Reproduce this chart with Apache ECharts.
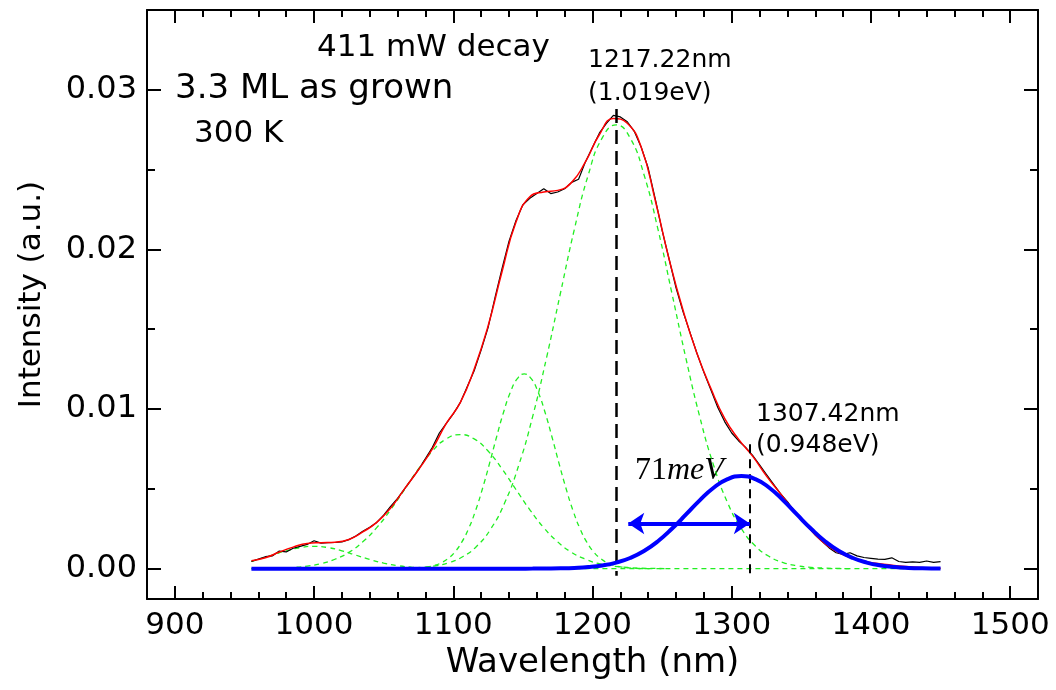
<!DOCTYPE html>
<html>
<head>
<meta charset="utf-8">
<script src="https://cdn.jsdelivr.net/npm/echarts@6/dist/echarts.min.js"></script>
<style>html,body{margin:0;padding:0;background:#fff}#c{width:1056px;height:690px}</style>
</head>
<body>
<div id="c"></div>
<script>
// ---- axis ticks ----
const xMajorTicks = [900, 1000, 1100, 1200, 1300, 1400, 1500];
const yMajorTicks = [0, 0.01, 0.02, 0.03];
const yMinorTicks = [0.005, 0.015, 0.025];

// ---- measured spectrum (black) ----
const dataWl = [955,960,965,970,975,980,985,990,995,1000,1005,1010,1015,1020,1025,1030,1035,1040,1045,1050,1055,1060,1065,1070,1075,1080,1085,1090,1095,1100,1105,1110,1115,1120,1125,1130,1135,1140,1145,1150,1155,1160,1165,1170,1175,1180,1185,1190,1195,1200,1205,1210,1215,1220,1225,1230,1235,1240,1245,1250,1255,1260,1265,1270,1275,1280,1285,1290,1295,1300,1305,1310,1315,1320,1325,1330,1335,1340,1345,1350,1355,1360,1365,1370,1375,1380,1385,1390,1395,1400,1405,1410,1415,1420,1425,1430,1435,1440,1445,1450];
const dataVal = [0.00045,0.0006,0.00075,0.0008,0.0011,0.00105,0.00128,0.0014,0.00152,0.00175,
0.0016,0.00163,0.00164,0.00168,0.00182,0.00205,0.00235,0.0026,0.0029,0.00335,
0.0039,0.0044,0.005,0.0056,0.0062,0.0069,0.0076,0.0085,0.0091,0.0097,
0.0104,0.0114,0.0124,0.0137,0.0151,0.017,0.0188,0.0205,0.0218,0.0228,
0.0232,0.0235,0.0238,0.0235,0.0236,0.0238,0.0242,0.0244,0.0255,0.0264,
0.0273,0.0279,0.0284,0.0283,0.028,0.0274,0.0264,0.0251,0.0232,0.0212,
0.0194,0.0176,0.0161,0.0148,0.0135,0.0123,0.0112,0.0101,0.0092,0.0085,
0.008,0.0076,0.0071,0.0065,0.0059,0.0053,0.0047,0.0042,0.0036,0.0031,
0.0026,0.0021,0.0017,0.0013,0.001,0.0009,0.001,0.0008,0.0007,0.00065,
0.0006,0.00058,0.00068,0.00045,0.0004,0.00042,0.0004,0.00048,0.0004,0.00044];

// ---- cumulative fit (red) ----
const fitWl = [955,965,975,985,995,1005,1015,1025,1035,1045,1055,1065,1075,1085,1095,1105,1115,1125,1135,1145,1155,1165,1175,1185,1195,1205,1215,1225,1235,1245,1255,1265,1275,1285,1295,1305,1315,1325,1335,1345,1355,1365,1375,1385,1395,1405,1415,1425,1435,1445,1450];
const fitVal = [0.0005,0.00068,0.00104,0.00135,0.00158,0.00163,0.00166,0.00183,0.0023,0.0029,
0.0038,0.005,0.0062,0.0075,0.0091,0.0104,0.0125,0.0152,0.0186,0.0217,
0.0233,0.0236,0.0237,0.0242,0.0255,0.0272,0.0282,0.0279,0.0264,0.0231,
0.0194,0.0162,0.0135,0.0113,0.0094,0.0081,0.00705,0.0058,0.0047,0.0036,
0.0026,0.0017,0.0011,0.0007,0.00045,0.00032,0.00022,0.00014,0.00008,0.00004,0.00003];

// ---- fitted peaks (green dashed) ----
const peak1Wl = [955,960,970,980,990,1000,1010,1020,1030,1040,1050,1060,1070,1080,1090,1100,1110];
const peak1Val = [0.00045,0.00058,0.00085,0.00112,0.00132,0.0014,0.00132,0.00112,0.00085,0.00058,0.00035,0.00019,0.00009,0.00004,0.000016,0.000005,0];

const peak2Wl = [955,965,975,985,995,1005,1015,1025,1035,1045,1055,1065,1075,1085,1095,1105,1115,1125,1135,1145,1155,1165,1175,1185,1195,1205,1215,1225,1235,1245,1255];
const peak2Val = [0.000005,0.000013,0.000032,0.000074,0.000157,0.00031,0.00059,0.00102,0.00168,0.00257,0.00369,0.00496,0.00625,0.00737,0.00813,0.0084,0.00813,0.00737,0.00625,0.00496,0.00369,0.00257,0.00168,0.00102,0.00059,0.00031,0.000157,0.000074,0.000032,0.000013,0.000005];

const peak3Wl = [1061,1071,1081,1086,1091,1096,1101,1106,1111,1116,1121,1126,1131,1136,1141,1146,1151,1156,1161,1166,1171,1176,1181,1186,1191,1196,1201,1206,1211,1216,1221,1231,1241];
const peak3Val = [0.000004,0.000022,0.0001,0.00019,0.00035,0.00062,0.00103,0.00165,0.00251,0.00364,0.00502,0.00658,0.00822,0.00977,0.01105,0.0119,0.0122,0.0119,0.01105,0.00977,0.00822,0.00658,0.00502,0.00364,0.00251,0.00165,0.00103,0.00062,0.00035,0.00019,0.0001,0.000022,0.000004];

const peak4Wl = [1047,1057,1067,1077,1087,1097,1107,1117,1127,1137,1147,1157,1167,1177,1187,1197,1207,1217,1227,1237,1247,1257,1267,1277,1287,1297,1307,1317,1327,1337,1347,1357,1367,1377,1387];
const peak4Val = [0.000005,0.000014,0.000035,0.00008,0.00018,0.00038,0.00076,0.00142,0.0025,0.00414,0.00647,0.00953,0.01322,0.01727,0.02127,0.02468,0.02699,0.0278,0.02699,0.02468,0.02127,0.01727,0.01322,0.00953,0.00647,0.00414,0.0025,0.00142,0.00076,0.00038,0.00018,0.00008,0.000035,0.000014,0.000005];

const baseWl = [955, 1450];
const baseVal = [0, 0];

// ---- highlighted peak (blue) ----
const peak5Wl = [955,1000,1050,1100,1127,1137,1147,1157,1167,1177,1187,1197,1207,1217,1227,1237,1247,1257,1267,1277,1287,1297,1307,1317,1327,1337,1347,1357,1367,1377,1387,1397,1407,1417,1427,1437,1450];
const peak5Val = [0,0,0,0,0,0,0.000001,0.000003,0.000008,0.000019,0.000045,0.000098,0.0002,0.00038,0.00067,0.00111,0.00172,0.0025,0.00338,0.00428,0.00507,0.00561,0.0058,0.00561,0.00507,0.00428,0.00338,0.0025,0.00172,0.00111,0.00067,0.00038,0.0002,0.000098,0.000045,0.000019,0.000005];

// ---- annotations ----
const mainPeakWl = 1217.22;
const mainPeakTop = 0.0288;
const sidePeakWl = 1313;
const sidePeakTop = 0.0078;
const lineBottom = -0.00045;
const fwhmLevel = 0.00283;
const fwhmFrom = 1225.7;
const fwhmTo = 1313;

const zip = (xs, ys) => xs.map((x, i) => [x, ys[i]]);

const FONT = '"DejaVu Sans", sans-serif';
const X_MIN = 880, X_MAX = 1520, Y_MIN = -0.0019, Y_MAX = 0.035;

function xAx(pos, major, extra) {
  return Object.assign({
    type: 'value', min: X_MIN, max: X_MAX, position: pos,
    splitLine: { show: false },
    axisLine: { show: major, onZero: false, lineStyle: { color: '#000', width: 2 } },
    axisTick: major ? { show: true, inside: true, length: 13, lineStyle: { color: '#000', width: 2 }, customValues: xMajorTicks }
                    : { show: true, inside: true, length: 7, lineStyle: { color: '#000', width: 2 } },
    axisLabel: { show: false },
    interval: major ? undefined : 20
  }, extra || {});
}
function yAx(pos, major, extra) {
  return Object.assign({
    type: 'value', min: Y_MIN, max: Y_MAX, position: pos,
    splitLine: { show: false },
    axisLine: { show: major, onZero: false, lineStyle: { color: '#000', width: 2 } },
    axisTick: { show: true, inside: true, length: major ? 14 : 8, lineStyle: { color: '#000', width: 2 }, customValues: major ? yMajorTicks : yMinorTicks },
    axisLabel: { show: false }
  }, extra || {});
}

const greenStyle = { color: '#22ee22', width: 1.3, type: [5, 4] };

const chart = echarts.init(document.getElementById('c'), null, { renderer: 'canvas' });
chart.setOption({
  animation: false,
  backgroundColor: '#fff',
  grid: { left: 147, top: 10, right: 18, bottom: 91, containLabel: false },
  xAxis: [
    xAx('bottom', true, {
      name: 'Wavelength (nm)', nameLocation: 'middle', nameGap: 46,
      nameTextStyle: { fontFamily: FONT, fontSize: 34, color: '#000' },
      axisLabel: { show: true, customValues: xMajorTicks, fontFamily: FONT, fontSize: 31, color: '#000', margin: 11,
                   formatter: v => String(v) }
    }),
    xAx('bottom', false),
    xAx('top', true),
    xAx('top', false)
  ],
  yAxis: [
    yAx('left', true, {
      name: 'Intensity (a.u.)', nameLocation: 'middle', nameGap: 100,
      nameTextStyle: { fontFamily: FONT, fontSize: 31, color: '#000', padding: [0, 0, 0, 20] },
      axisLabel: { show: true, customValues: yMajorTicks, fontFamily: FONT, fontSize: 32, color: '#000', margin: 10,
                   formatter: v => v.toFixed(2) }
    }),
    yAx('left', false),
    yAx('right', true),
    yAx('right', false)
  ],
  series: [
    { type: 'line', name: 'peak1', data: zip(peak1Wl, peak1Val), smooth: true, symbol: 'none', z: 2, lineStyle: greenStyle },
    { type: 'line', name: 'peak2', data: zip(peak2Wl, peak2Val), smooth: true, symbol: 'none', z: 2, lineStyle: greenStyle },
    { type: 'line', name: 'peak3', data: zip(peak3Wl, peak3Val), smooth: true, symbol: 'none', z: 2, lineStyle: greenStyle },
    { type: 'line', name: 'peak4', data: zip(peak4Wl, peak4Val), smooth: true, symbol: 'none', z: 2, lineStyle: greenStyle },
    { type: 'line', name: 'base', data: zip(baseWl, baseVal), symbol: 'none', z: 2, lineStyle: greenStyle,
      markLine: {
        silent: true, symbol: 'none', label: { show: false },
        data: [
          [{ coord: [mainPeakWl, mainPeakTop], lineStyle: { color: '#000', width: 2.5, type: [14, 7] } },
           { coord: [mainPeakWl, lineBottom] }],
          [{ coord: [sidePeakWl, sidePeakTop], lineStyle: { color: '#000', width: 2, type: [9, 6] } },
           { coord: [sidePeakWl, lineBottom] }]
        ]
      } },
    { type: 'line', name: 'data', data: zip(dataWl, dataVal), symbol: 'none', z: 3,
      lineStyle: { color: '#000', width: 1.2 } },
    { type: 'line', name: 'fit', data: zip(fitWl, fitVal), smooth: true, symbol: 'none', z: 4,
      lineStyle: { color: '#ff0000', width: 1.5 } },
    { type: 'line', name: 'peak5', data: zip(peak5Wl, peak5Val), smooth: true, symbol: 'none', z: 5,
      lineStyle: { color: '#0000ff', width: 4 },
      markLine: {
        silent: true, symbol: ['arrow', 'arrow'], symbolSize: 16, label: { show: false },
        lineStyle: { color: '#0000ff', width: 4, type: 'solid' },
        data: [[{ coord: [fwhmFrom, fwhmLevel] }, { coord: [fwhmTo, fwhmLevel] }]]
      } }
  ],
  graphic: [
    { type: 'text', x: 317, y: 47.5, style: { text: '411 mW decay', font: '31px ' + FONT, fill: '#000', align: 'left', verticalAlign: 'middle' } },
    { type: 'text', x: 175, y: 89.5, style: { text: '3.3 ML as grown', font: '34px ' + FONT, fill: '#000', align: 'left', verticalAlign: 'middle' } },
    { type: 'text', x: 194, y: 134, style: { text: '300 K', font: '31px ' + FONT, fill: '#000', align: 'left', verticalAlign: 'middle' } },
    { type: 'text', x: 588, y: 60, style: { text: '1217.22nm', font: '25px ' + FONT, fill: '#000', align: 'left', verticalAlign: 'middle' } },
    { type: 'text', x: 588, y: 93.5, style: { text: '(1.019eV)', font: '25px ' + FONT, fill: '#000', align: 'left', verticalAlign: 'middle' } },
    { type: 'text', x: 756, y: 414, style: { text: '1307.42nm', font: '25px ' + FONT, fill: '#000', align: 'left', verticalAlign: 'middle' } },
    { type: 'text', x: 756, y: 445, style: { text: '(0.948eV)', font: '25px ' + FONT, fill: '#000', align: 'left', verticalAlign: 'middle' } },
    { type: 'text', x: 635, y: 471, style: { text: '{r|71}{i|meV}', fill: '#000', align: 'left', verticalAlign: 'middle',
        rich: { r: { font: '32px "Liberation Serif", serif' }, i: { font: 'italic 32px "Liberation Serif", serif' } } } }
  ]
});
</script>
</body>
</html>
